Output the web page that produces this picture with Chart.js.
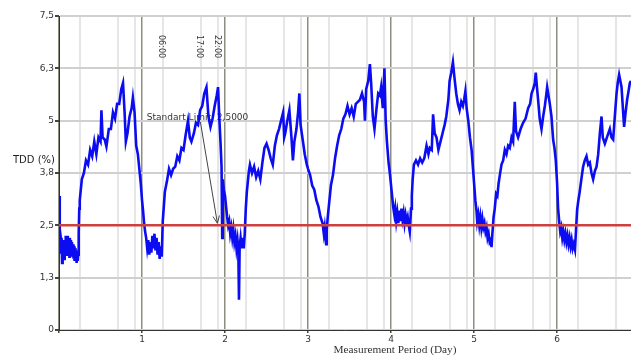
<!DOCTYPE html>
<html>
<head>
<meta charset="utf-8">
<script src="https://cdn.jsdelivr.net/npm/chart.js@4.4.1/dist/chart.umd.min.js"></script>
<style>
  html, body { margin: 0; padding: 0; background: #ffffff; overflow: hidden; }
  canvas { display: block; }
</style>
</head>
<body>
<canvas id="tddChart" width="631" height="356"></canvas>
<script>
// Axis ticks
const yTickValues = [0, 1.25, 2.5, 3.75, 5, 6.25, 7.5];
const yTickLabels = ['0', '1,3', '2,5', '3,8', '5', '6,3', '7,5'];
const dayTickValues = [1, 2, 3, 4, 5, 6];
const dayTickLabels = ['1', '2', '3', '4', '5', '6'];
const hourMarks = [6, 17, 22];
const hourLabels = ['06:00', '17:00', '22:00'];
const hourLabelDay = 1;
const lastDay = 6.89;

// Limit line
const standardLimit = 2.5;
const limitText = 'Standart Limit: 2,5000';

// TDD (%) samples, one pair of arrays per measurement day
const day0Times = [0, 0.006, 0.012, 0.019, 0.025, 0.031, 0.037, 0.044, 0.05, 0.056, 0.062, 0.069, 0.075, 0.081, 0.087, 0.094, 0.1, 0.106, 0.112, 0.119, 0.125, 0.131, 0.137, 0.144, 0.15, 0.156, 0.162, 0.169, 0.175, 0.181, 0.187, 0.194, 0.2, 0.206, 0.212, 0.219, 0.225, 0.231, 0.237, 0.244,
  0.25, 0.275, 0.3, 0.325, 0.35, 0.375, 0.4, 0.425, 0.45, 0.475, 0.5, 0.511, 0.525, 0.55, 0.571, 0.6, 0.625, 0.65, 0.675, 0.7, 0.725, 0.75, 0.771, 0.79, 0.805, 0.825, 0.85, 0.875, 0.89, 0.91, 0.93, 0.95, 0.97, 0.985];
const day0Tdd = [3.2, 2.9, 2.4, 2.25, 1.85, 2.2, 1.6, 2.0, 1.75, 2.15, 1.7, 2.1, 1.8, 2.25, 1.9, 2.2, 1.8, 2.25, 1.85, 2.05, 1.75, 2.2, 1.8, 2.15, 1.85, 2.1, 1.75, 2.05, 1.7, 2.0, 1.65, 1.95, 1.7, 1.9, 1.6, 1.85, 1.65, 1.8, 2.3, 2.9,
  3.1, 3.6, 3.75, 4.05, 3.95, 4.3, 4.15, 4.5, 4.2, 4.6, 4.5, 5.25, 4.6, 4.55, 4.38, 4.8, 4.8, 5.2, 5.05, 5.4, 5.4, 5.75, 5.9, 5.2, 4.5, 4.7, 5.1, 5.3, 5.55, 5.2, 4.4, 4.2, 3.8, 3.5];

const day1Times = [1.0, 1.0125, 1.025, 1.0375, 1.05, 1.0625, 1.075, 1.0875, 1.1, 1.1125, 1.125, 1.1375, 1.15, 1.1625, 1.175, 1.1875, 1.2, 1.2125, 1.225, 1.2375,
  1.25, 1.275, 1.3, 1.325, 1.35, 1.375, 1.4, 1.425, 1.45, 1.475, 1.5, 1.525, 1.554, 1.575, 1.595, 1.625, 1.65, 1.675, 1.7, 1.725, 1.75, 1.776, 1.8, 1.825, 1.85, 1.875, 1.9, 1.916, 1.93, 1.945, 1.958, 1.966, 1.972, 1.985];
const day1Tdd = [3.1, 2.85, 2.55, 2.35, 2.2, 1.95, 2.15, 1.8, 2.1, 1.85, 2.25, 1.95, 2.3, 1.9, 2.2, 1.8, 2.1, 1.7, 2.0, 1.75,
  2.6, 3.3, 3.55, 3.85, 3.7, 3.85, 3.9, 4.15, 4.05, 4.35, 4.3, 4.65, 5.0, 4.6, 4.5, 4.7, 4.95, 4.9, 5.25, 5.35, 5.65, 5.8, 5.1, 4.85, 5.05, 5.35, 5.6, 5.8, 5.1, 4.5, 3.9, 2.2, 3.6, 3.35];

const day2Times = [2.0, 2.0125, 2.025, 2.0375, 2.05, 2.0625, 2.075, 2.0875, 2.1, 2.1125, 2.125, 2.1375, 2.15, 2.16, 2.168, 2.176, 2.1875, 2.2, 2.2125, 2.225, 2.2375, 2.25, 2.2625, 2.275, 2.2875, 2.3,
  2.325, 2.35, 2.375, 2.4, 2.425, 2.45, 2.475, 2.5, 2.525, 2.55, 2.575, 2.6, 2.625, 2.65, 2.675, 2.7, 2.7125, 2.725, 2.75, 2.775, 2.8, 2.8175, 2.835, 2.86, 2.88, 2.895, 2.91, 2.935, 2.96, 2.985];
const day2Tdd = [3.2, 2.95, 2.7, 2.5, 2.6, 2.3, 2.45, 2.2, 2.4, 2.1, 2.25, 1.95, 2.15, 1.9, 0.72, 2.0, 2.2, 1.95, 2.2, 1.95, 2.3, 2.9, 3.3, 3.55, 3.8, 3.95,
  3.75, 3.9, 3.65, 3.8, 3.6, 4.0, 4.35, 4.45, 4.3, 4.1, 3.95, 4.4, 4.65, 4.8, 5.0, 5.2, 4.6, 4.7, 5.0, 5.25, 4.6, 4.05, 4.5, 4.8, 5.2, 5.65, 4.9, 4.55, 4.2, 3.95];

const day3Times = [3.0, 3.025, 3.05, 3.075, 3.1, 3.125, 3.15, 3.175, 3.19, 3.2, 3.2125, 3.2175, 3.225, 3.2375, 3.25, 3.275, 3.3, 3.325, 3.35, 3.375, 3.4, 3.425, 3.45, 3.475, 3.5, 3.525, 3.55, 3.575, 3.6, 3.625, 3.65, 3.675, 3.685, 3.7, 3.725, 3.745, 3.76, 3.78, 3.8, 3.825, 3.845, 3.865, 3.88, 3.9, 3.92, 3.935, 3.95, 3.97, 3.985];
const day3Tdd = [3.85, 3.7, 3.45, 3.35, 3.1, 2.95, 2.7, 2.55, 2.3, 2.45, 2.15, 2.05, 2.4, 2.7, 2.95, 3.45, 3.7, 4.1, 4.4, 4.65, 4.8, 5.05, 5.15, 5.35, 5.15, 5.3, 5.1, 5.4, 5.45, 5.5, 5.65, 5.45, 5.0, 5.75, 5.95, 6.35, 5.9, 5.1, 4.8, 5.3, 5.65, 5.6, 5.8, 5.3, 6.25, 5.0, 4.5, 4.0, 3.75];

const day4Times = [4.0, 4.015, 4.025, 4.04, 4.05, 4.0625, 4.075, 4.0875, 4.1, 4.1125, 4.125, 4.1375, 4.15, 4.1625, 4.175, 4.1875, 4.2, 4.2125, 4.225, 4.2325, 4.24, 4.25, 4.26, 4.275, 4.3, 4.325, 4.35, 4.375, 4.4, 4.427, 4.45, 4.466, 4.49, 4.506, 4.525, 4.547, 4.57, 4.595, 4.62, 4.645, 4.665, 4.69, 4.705, 4.725, 4.745, 4.765, 4.785, 4.805, 4.825, 4.845, 4.865, 4.88, 4.895, 4.91, 4.93, 4.95, 4.97, 4.985];
const day4Tdd = [3.45, 3.15, 2.95, 2.75, 2.9, 2.6, 2.8, 2.55, 2.85, 2.6, 2.9, 2.65, 2.8, 2.55, 2.75, 2.6, 2.7, 2.5, 2.35, 2.6, 2.9, 3.2, 3.6, 3.95, 4.05, 3.95, 4.1, 4.0, 4.1, 4.4, 4.2, 4.35, 4.3, 5.15, 4.7, 4.6, 4.3, 4.5, 4.7, 4.9, 5.1, 5.5, 5.95, 6.15, 6.4, 6.0, 5.65, 5.4, 5.25, 5.45, 5.35, 5.5, 5.7, 5.3, 5.0, 4.6, 4.3, 3.9];

const day5Times = [5.0, 5.015, 5.029, 5.0375, 5.05, 5.0625, 5.075, 5.0875, 5.1, 5.1125, 5.125, 5.1375, 5.15, 5.1625, 5.175, 5.1875, 5.2, 5.21, 5.22, 5.235, 5.249, 5.265, 5.28, 5.295, 5.31, 5.33, 5.35, 5.37, 5.39, 5.41, 5.43, 5.451, 5.47, 5.49, 5.505, 5.53, 5.56, 5.59, 5.62, 5.651, 5.675, 5.692, 5.711, 5.731, 5.743, 5.757, 5.771, 5.79, 5.812, 5.832, 5.852, 5.868, 5.88, 5.896, 5.912, 5.932, 5.952, 5.968, 5.984];
const day5Tdd = [3.5, 3.1, 2.85, 2.6, 2.75, 2.5, 2.7, 2.45, 2.65, 2.45, 2.55, 2.35, 2.45, 2.2, 2.3, 2.1, 2.15, 1.98, 2.3, 2.7, 2.9, 3.25, 3.2, 3.5, 3.7, 3.95, 4.05, 4.3, 4.2, 4.4, 4.35, 4.6, 4.5, 5.45, 4.75, 4.6, 4.8, 4.95, 5.05, 5.3, 5.4, 5.65, 5.75, 5.9, 6.15, 5.8, 5.5, 5.05, 4.8, 5.1, 5.35, 5.6, 5.8, 5.6, 5.4, 5.1, 4.55, 4.35, 4.05];

const day6Times = [6.0, 6.012, 6.025, 6.0375, 6.05, 6.0625, 6.075, 6.0875, 6.1, 6.1125, 6.125, 6.1375, 6.15, 6.1625, 6.175, 6.1875, 6.2, 6.215, 6.228, 6.241, 6.256, 6.272, 6.292, 6.313, 6.333, 6.354, 6.374, 6.394, 6.414, 6.434, 6.455, 6.475, 6.495, 6.515, 6.535, 6.55, 6.575, 6.6, 6.635, 6.655, 6.675, 6.695, 6.716, 6.73, 6.747, 6.762, 6.776, 6.792, 6.807, 6.825, 6.843, 6.86, 6.876, 6.89];
const day6Tdd = [3.5, 2.9, 2.6, 2.35, 2.45, 2.2, 2.35, 2.15, 2.3, 2.1, 2.25, 2.05, 2.2, 2.0, 2.15, 1.95, 2.05, 1.92, 2.4, 2.87, 3.1, 3.3, 3.6, 3.9, 4.05, 4.15, 3.95, 4.0, 3.75, 3.6, 3.8, 3.9, 4.2, 4.7, 5.1, 4.6, 4.45, 4.6, 4.8, 4.6, 4.55, 5.1, 5.65, 5.9, 6.1, 5.95, 5.8, 5.3, 4.85, 5.2, 5.5, 5.7, 5.9, 5.95];

const dayTimes = [day0Times, day1Times, day2Times, day3Times, day4Times, day5Times, day6Times];
const dayTdd = [day0Tdd, day1Tdd, day2Tdd, day3Tdd, day4Tdd, day5Tdd, day6Tdd];

const tddPoints = [];
dayTimes.forEach((times, d) => {
  const n = Math.min(times.length, dayTdd[d].length);
  for (let i = 0; i < n; i++) tddPoints.push({ x: times[i], y: dayTdd[d][i] });
});

// Vertical grid positions: whole days plus the 06:00 / 17:00 / 22:00 marks
const xGridValues = [];
for (let d = 0; d <= 6; d++) {
  xGridValues.push(d);
  hourMarks.forEach(h => { const v = d + h / 24; if (v < lastDay) xGridValues.push(v); });
}
const isWholeDay = v => Math.abs(v - Math.round(v)) < 1e-6;

const FONT = 'DejaVu Sans';

const overlayPlugin = {
  id: 'overlay',
  beforeDatasetsDraw(chart) {
    const { ctx } = chart;
    const xs = chart.scales.x, ys = chart.scales.y;
    ctx.save();
    // hour labels (rotated)
    ctx.fillStyle = '#333';
    ctx.font = '8px "' + FONT + '"';
    ctx.textAlign = 'left';
    ctx.textBaseline = 'middle';
    hourMarks.forEach((h, i) => {
      const px = xs.getPixelForValue(hourLabelDay + h / 24) - 1.5;
      ctx.save();
      ctx.translate(px, 35);
      ctx.rotate(Math.PI / 2);
      ctx.fillText(hourLabels[i], 0, 0);
      ctx.restore();
    });
    // limit annotation text
    ctx.font = '9px "' + FONT + '"';
    ctx.fillStyle = '#333';
    ctx.textBaseline = 'middle';
    ctx.fillText(limitText, xs.getPixelForValue(1.058), ys.getPixelForValue(5.08));
    // arrow to the limit line
    const x1 = xs.getPixelForValue(1.703), y1 = ys.getPixelForValue(4.97);
    const x2 = xs.getPixelForValue(1.908), y2 = ys.getPixelForValue(2.55);
    ctx.strokeStyle = '#444';
    ctx.lineWidth = 1;
    ctx.beginPath();
    ctx.moveTo(x1, y1);
    ctx.lineTo(x2, y2);
    const ang = Math.atan2(y2 - y1, x2 - x1);
    const len = 8, spread = 0.42;
    ctx.moveTo(x2 - len * Math.cos(ang - spread), y2 - len * Math.sin(ang - spread));
    ctx.lineTo(x2, y2);
    ctx.lineTo(x2 - len * Math.cos(ang + spread), y2 - len * Math.sin(ang + spread));
    ctx.stroke();
    ctx.restore();
  },
  afterDraw(chart) {
    const { ctx } = chart;
    ctx.save();
    ctx.fillStyle = '#222';
    ctx.font = '10px "' + FONT + '"';
    ctx.textAlign = 'left';
    ctx.textBaseline = 'middle';
    ctx.fillText('TDD (%)', 13, 160);
    ctx.fillStyle = '#333';
    ctx.font = '11.3px "Liberation Serif"';
    ctx.textAlign = 'center';
    ctx.fillText('Measurement Period (Day)', 395, 350);
    ctx.restore();
  }
};

new Chart(document.getElementById('tddChart'), {
  type: 'line',
  data: {
    datasets: [
      {
        label: 'Standart Limit',
        data: [{ x: 0, y: standardLimit }, { x: lastDay, y: standardLimit }],
        borderColor: '#cc4040',
        borderWidth: 2.5,
        pointRadius: 0,
        order: 0
      },
      {
        label: 'TDD (%)',
        data: tddPoints,
        borderColor: '#0c0cf2',
        borderWidth: 2.6,
        borderJoinStyle: 'miter',
        pointRadius: 0,
        tension: 0,
        order: 1
      }
    ]
  },
  options: {
    responsive: false,
    animation: false,
    devicePixelRatio: 1,
    layout: { padding: { top: 16, right: 0, bottom: 0, left: 0 } },
    plugins: { legend: { display: false }, tooltip: { enabled: false } },
    scales: {
      x: {
        type: 'linear',
        min: 0,
        max: lastDay,
        afterBuildTicks: s => { s.ticks = xGridValues.map(v => ({ value: v })); },
        afterFit: s => { s.height = 26; },
        border: { color: '#333', width: 1 },
        grid: {
          color: c => isWholeDay(c.tick.value) ? '#8e8e80' : '#e6e6e6',
          lineWidth: c => isWholeDay(c.tick.value) ? 1.5 : 2,
          tickColor: c => isWholeDay(c.tick.value) ? '#444' : 'rgba(0,0,0,0)',
          tickLength: 3
        },
        ticks: {
          autoSkip: false,
          maxRotation: 0,
          minRotation: 0,
          padding: 1,
          color: '#333',
          font: { family: FONT, size: 9 },
          callback: v => {
            const k = dayTickValues.indexOf(Math.round(v));
            return isWholeDay(v) && k >= 0 ? dayTickLabels[k] : '';
          }
        }
      },
      y: {
        min: 0,
        max: 7.5,
        afterBuildTicks: s => { s.ticks = yTickValues.map(v => ({ value: v })); },
        afterFit: s => { s.width = 59; },
        border: { color: '#333', width: 1 },
        grid: {
          color: '#d0d0d0',
          lineWidth: 2,
          tickColor: '#444',
          tickLength: 4
        },
        ticks: {
          padding: 1,
          color: '#333',
          font: { family: FONT, size: 9 },
          callback: v => {
            const k = yTickValues.indexOf(v);
            return k >= 0 ? yTickLabels[k] : '';
          }
        }
      }
    }
  },
  plugins: [overlayPlugin]
});
</script>
</body>
</html>
